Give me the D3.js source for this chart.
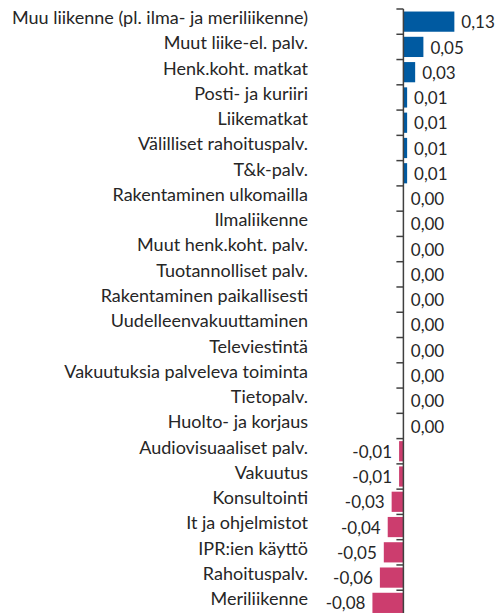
<!DOCTYPE html>
<html><head><meta charset="utf-8">
<script src="https://cdn.jsdelivr.net/npm/d3@7"></script>
<style>body{margin:0;background:#fff;}svg{display:block;}</style>
</head><body>
<svg id="c" width="497" height="613"></svg>
<script>
const categories = ["Muu liikenne (pl. ilma- ja meriliikenne)","Muut liike-el. palv.","Henk.koht. matkat","Posti- ja kuriiri","Liikematkat","Välilliset rahoituspalv.","T&k-palv.","Rakentaminen ulkomailla","Ilmaliikenne","Muut henk.koht. palv.","Tuotannolliset palv.","Rakentaminen paikallisesti","Uudelleenvakuuttaminen","Televiestintä","Vakuutuksia palveleva toiminta","Tietopalv.","Huolto- ja korjaus","Audiovisuaaliset palv.","Vakuutus","Konsultointi","It ja ohjelmistot","IPR:ien käyttö","Rahoituspalv.","Meriliikenne"];
const values = [0.13,0.051,0.03,0.0095,0.0095,0.0095,0.0095,0.001,0.001,0.001,0.001,0.001,0.001,0.001,0.001,0.001,0.001,-0.011,-0.011,-0.03,-0.04,-0.05,-0.06,-0.079];
const xDomain = [-0.1, 0.15];

const svg = d3.select("#c");
const x = d3.scaleLinear().domain(xDomain).range([364.2, 462.2]);
const y = d3.scaleBand().domain(categories).range([9, 615.5]).paddingInner(0.2).paddingOuter(0.1);
const fmt = v => d3.format(".2f")(v).replace(".", ",").replace("−","-");
const data = categories.map((c,i)=>({c, v: values[i]}));
const font = "Lato, 'Open Sans', sans-serif";
const mid = d => y(d.c) + y.bandwidth()/2;

svg.selectAll("rect.bar").data(data).join("rect")
  .attr("x", d => x(Math.min(0, d.v)))
  .attr("y", d => y(d.c))
  .attr("width", d => Math.abs(x(d.v) - x(0)))
  .attr("height", y.bandwidth())
  .attr("fill", d => d.v >= 0 ? "#005AA1" : "#CC3D6E");

// axis line + ticks at band boundaries
const x0 = x(0);
const step = y.step();
const bounds = categories.map(c => y(c) - step * y.paddingInner() / 2);
svg.append("line").attr("x1", x0).attr("x2", x0).attr("y1", bounds[0]).attr("y2", 613)
  .attr("stroke", "#404040").attr("stroke-width", 1.5);
svg.selectAll("line.tick").data(bounds).join("line").attr("class","tick")
  .attr("x1", x0 - 7).attr("x2", x0).attr("y1", d => d).attr("y2", d => d)
  .attr("stroke", "#404040").attr("stroke-width", 1.5);

// category labels
svg.selectAll("text.cat").data(data).join("text").attr("class","cat")
  .attr("x", 308).attr("y", d => mid(d) + 2.4)
  .attr("text-anchor", "end")
  .attr("font-family", font).attr("font-size", 18).attr("fill", "#262626")
  .text(d => d.c);

// value labels
svg.selectAll("text.val").data(data).join("text").attr("class","val")
  .attr("x", d => d.v >= 0 ? x(d.v) + 7 : x(d.v) - 7)
  .attr("y", d => mid(d) + 6.6)
  .attr("text-anchor", d => d.v >= 0 ? "start" : "end")
  .attr("font-family", font).attr("font-size", 17).attr("fill", "#262626")
  .text(d => fmt(d.v));
</script>
</body></html>
